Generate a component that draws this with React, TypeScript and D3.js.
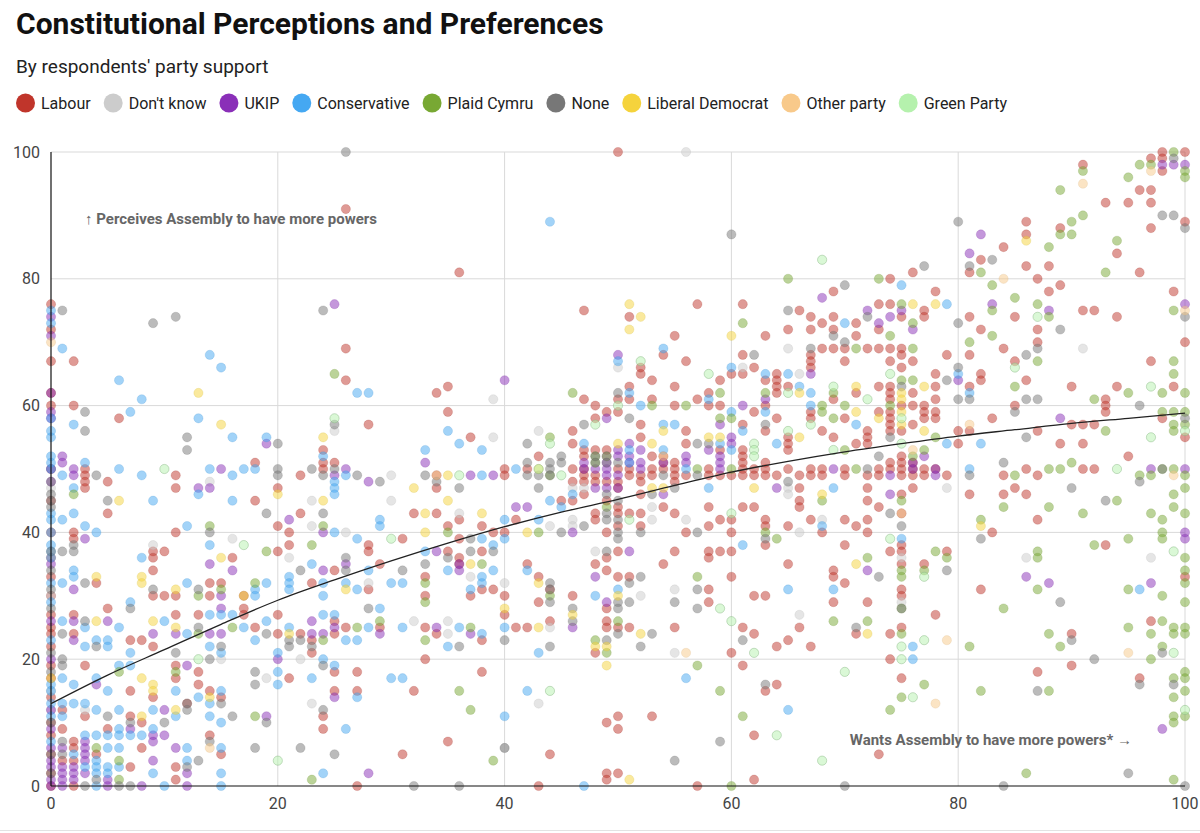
import { useEffect, useRef } from 'react';
import * as d3 from 'd3';

type Pt = [number, number];

// [wants more powers (x), perceives powers (y)]
const labour: Pt[] = [
    [0,0],[0,2],[0,5],[0,8],[0,10],[0,14],[0,17],[0,19],[0,22],[0,24],[0,25],[0,27],[0,30],[0,33],[0,36],[0,40],[0,45],[0,50],[0,60],[0,62],[0,67],[0,72],[0,76],
    [26,91],[2,67],[6,58],[26,69],[26,64],[34,62],[28,57],[24,53],[24,51],[24,50],[25,51],[34,49],[34,47],[22,49],[20,47],[18,51],[11,49],[11,47],[5,48],[5,43],[3,50],[3,49],[3,48],[3,47],[2,60],[18,45],[22,43],[32,43],[34,43],[20,41],[21,40],[2,40],[2,39],[11,40],[20,37],[21,38],[28,38],[28,37],[31,39],[9,37],[10,37],[9,36],[16,36],[29,35],
    [4,32],[9,34],[9,30],[10,30],[11,30],[14,32],[14,30],[15,32],[17,30],[2,27],[5,28],[11,27],[13,27],[17,28],[17,27],[18,25],[20,27],[20,24],[2,24],[7,23],[8,23],[9,22],[3,19],[11,19],[11,17],[13,18],[21,17],[7,15],[9,14],[13,16],[14,15],[15,14],[12,13],[1,12],[3,11],[7,11],[8,10],[1,9],[5,9],[14,8],[2,7],[2,6],[4,5],[15,5],[1,4],[2,4],[7,3],[8,6],[11,3],[11,1],[2,0],
    [25,34],[23,32],[28,31],[33,33],[33,30],[36,35],[37,30],[38,31],[39,31],[40,30],[40,27],[42,35],[43,33],[44,31],[43,29],[46,30],[44,26],[42,25],[41,25],[48,35],[49,34],[50,33],[51,33],[49,26],[49,25],[50,25],[51,25],[48,21],[55,25],[54,35],[22,24],[23,23],[23,21],[25,26],[25,24],[26,25],[29,25],[33,25],[34,24],[38,23],[25,18],[27,18],[33,20],[38,18],[25,15],[27,15],[32,15],[24,11],[24,9],[49,10],[50,11],[50,9],[53,11],[31,5],[35,7],[44,5],[49,2],[49,1],[50,2],[27,0],[43,0],
    [35,63],[35,59],[47,61],[48,60],[48,58],[49,59],[50,61],[51,63],[51,61],[52,65],[52,57],[53,64],[53,61],[55,63],[55,60],[46,56],[46,54],[52,55],[37,55],[40,50],[40,49],[42,50],[43,52],[46,50],[46,48],[46,45],[45,45],[47,50],[47,49],[47,48],[47,46],[48,53],[48,49],[48,48],[49,53],[49,48],[49,45],[49,40],[50,50],[50,48],[50,47],[50,44],[50,43],[51,50],[51,49],[51,43],[52,49],[52,48],[52,41],[53,52],[53,50],[54,50],[54,44],[55,51],[55,50],[55,49],[55,43],[36,42],[41,42],[48,43],[48,42],[52,43],[35,41],[38,41],[39,40],[40,40],[36,39],[31,39],[35,37],[36,36],[38,37],[55,37],[50,37],[36,81],
    [50,100],[74,80],[76,81],[69,78],[78,78],[47,75],[51,74],[57,76],[61,76],[55,71],[63,71],[66,75],[65,72],[67,74],[67,72],[68,73],[69,74],[69,72],[71,73],[71,71],[73,76],[73,72],[74,76],[75,74],[77,75],[77,74],[54,68],[56,67],[52,66],[60,65],[61,68],[61,65],[62,66],[67,68],[67,67],[67,66],[68,69],[69,69],[70,69],[70,67],[72,69],[73,69],[74,69],[74,67],[75,69],[75,68],[75,66],[76,67],[78,65],[59,64],[58,62],[57,61],[50,59],[49,59],[56,56],[56,54],[58,60],[59,60],[61,57],[62,59],[63,64],[63,60],[63,56],[64,65],[64,64],[64,63],[64,62],[64,58],[65,63],[65,55],[65,53],[67,59],[67,58],[68,56],[69,61],[69,55],[70,58],[71,62],[71,54],[72,56],[72,55],[72,54],[73,63],[73,59],[74,63],[74,62],[74,61],[74,59],[74,58],[74,57],[74,56],[75,60],[75,56],[76,62],[76,57],[77,60],[77,59],[78,61],[75,52],[76,60],
    [58,50],[61,50],[62,50],[63,50],[65,50],[67,50],[68,50],[70,50],[73,50],[74,50],[75,50],[53,49],[56,49],[58,49],[59,49],[60,49],[61,49],[62,49],[63,49],[64,49],[66,49],[67,49],[68,49],[70,49],[72,49],[73,49],[75,49],[76,49],[77,49],[55,48],[54,51],[61,51],[63,51],[74,51],[75,51],[47,52],[54,52],[61,52],[47,53],[59,53],[61,53],[65,54],[71,54],
    [66,47],[72,47],[76,47],[52,46],[66,45],[72,45],[75,46],[75,43],[50,41],[56,40],[58,44],[58,41],[59,42],[60,42],[60,40],[61,44],[62,44],[63,42],[63,41],[63,38],[65,41],[66,44],[67,42],[68,40],[70,42],[71,41],[72,42],[72,40],[73,44],[75,38],[75,37],[74,37],[75,35],[75,31],[75,30],[75,25],[74,24],[74,20],[75,17],[77,35],[78,27],[49,36],[48,35],[49,34],[50,33],[49,28],[58,37],[58,36],[58,31],[58,29],[59,37],[60,37],[60,33],[61,25],[62,30],[62,24],[63,30],[64,22],[65,35],[65,23],[66,25],[67,22],[69,34],[69,33],[69,29],[70,38],[70,32],[71,24],[72,29],[60,21],[61,19],[63,15],[64,16],[62,8],[73,5],[62,1],[57,0],
    [98,100],[100,100],[97,99],[98,99],[98,97],[91,98],[96,94],[97,94],[93,92],[95,92],[97,92],[89,88],[86,89],[86,87],[100,89],[97,88],[94,84],[82,83],[81,81],[84,85],[86,82],[88,82],[96,81],[87,80],[88,78],[89,79],[91,75],[92,75],[94,74],[85,74],[81,74],[82,72],[84,69],[87,72],[87,70],[85,67],[99,78],[100,70],[97,67],[81,68],[79,68],[82,65],[82,64],[81,63],[78,63],[83,58],[85,60],[86,64],[90,63],[93,61],[93,60],[93,59],[94,63],[99,63],[100,55],[98,58],[95,52],[92,57],[91,57],[90,57],[91,54],[89,54],[87,56],[81,56],[80,56],[80,54],[78,59],[78,58],[77,58],[76,50],[77,50],[78,50],[86,50],[91,50],[92,50],[79,49],[84,49],[87,49],[76,51],[85,47],[81,46],[84,46],[86,46],
    [87,42],[83,40],[93,38],[79,37],[100,33],[82,31],[97,26],[90,24],[90,19],[87,18],[96,17]
];

const dontKnow: Pt[] = [
    [0,12],[0,15],[0,30],[0,47],
    [25,56],[14,48],[30,49],[23,45],[26,40],[23,41],[30,45],[16,39],[21,36],[9,38],
    [3,12],[19,17],[15,20],[28,32],
    [32,26],[35,26],[35,24],[37,33],[40,32],[44,25],[52,30],[55,31],[55,21],[22,20],[23,13],[40,6],[43,13],
    [39,61],[43,56],[39,55],[36,43],[44,41],[46,42],[46,41],[46,47],[47,47],[53,44],[53,42],[48,37],
    [56,100],[50,66],[61,66],[65,69],[66,65],[65,47],[65,46],[56,42],[66,40],[68,42],[75,36],[75,29],[66,27],
    [91,69],[79,47],[97,36],[86,36]
];

const ukip: Pt[] = [
    [0,0],[0,1],[0,3],[0,4],[0,6],[0,9],[0,12],[0,20],[0,26],[0,35],[0,48],[0,50],[0,58],[0,59],[0,62],[0,71],[0,74],
    [25,76],[19,54],[33,51],[25,49],[26,50],[28,48],[15,50],[13,47],[14,47],[2,50],[2,49],[1,52],[1,51],[21,42],[24,40],[3,39],[26,35],
    [2,31],[16,34],[14,35],[2,26],[5,26],[11,24],[14,24],[15,28],[15,30],[15,24],[2,23],[9,24],[12,19],[20,20],[4,16],[10,12],[19,11],[7,9],[9,8],[10,8],[9,7],[1,6],[1,3],[1,2],[1,1],[1,0],[2,3],[2,2],[2,1],[3,7],[3,6],[3,5],[3,4],[3,2],[5,1],[5,0],[8,0],[9,4],[11,6],[12,2],[12,0],
    [24,34],[26,35],[36,34],[48,33],[49,29],[46,25],[23,26],[23,24],[24,24],[25,25],[29,24],[34,25],[37,24],[25,14],[28,2],
    [40,64],[49,58],[51,54],[37,49],[39,49],[48,50],[48,47],[49,50],[49,49],[49,47],[50,53],[50,52],[50,49],[51,52],[51,51],[52,53],[52,51],[52,50],[54,51],[54,46],[41,44],[42,44],[46,40],[34,37],[36,35],[51,37],
    [68,77],[72,75],[73,73],[74,74],[75,75],[76,72],[67,65],[63,61],[61,60],[59,57],[60,55],[50,68],
    [47,50],[59,50],[69,50],[76,50],[78,50],[74,49],[78,49],[47,51],[49,51],[56,51],[59,51],[76,51],[49,52],[56,52],[59,52],[77,52],[58,53],[60,54],[64,47],[50,47],[74,46],[72,34],
    [82,87],[81,84],[88,75],[83,76],[100,76],[80,64],[89,58],[97,50],[100,50],[98,98],[99,98],[100,98],
    [100,40],[100,39],[86,33],[88,32],[97,32],[98,9]
];

const conservative: Pt[] = [
    [0,7],[0,11],[0,13],[0,15],[0,16],[0,23],[0,29],[0,32],[0,36],[0,37],[0,38],[0,40],[0,42],[0,43],[0,50],[0,51],[0,52],[0,55],[0,56],[0,58],[0,73],[0,75],
    [1,69],[14,68],[15,66],[6,64],[8,61],[7,59],[13,58],[16,55],[19,55],[27,62],[28,62],[24,52],[25,48],[25,47],[25,46],[26,49],[33,53],[3,51],[1,49],[2,47],[8,49],[6,50],[18,50],[17,50],[16,49],[14,50],[13,46],[9,45],[16,45],[29,42],[29,41],[1,42],[2,43],[3,41],[4,40],[12,41],[14,38],[25,40],[27,39],[8,36],[2,57],
    [2,34],[2,33],[1,32],[12,32],[18,31],[18,30],[19,32],[21,33],[21,32],[21,31],[1,26],[6,25],[7,29],[10,26],[12,24],[14,27],[15,27],[16,27],[17,25],[18,23],[19,26],[3,25],[3,22],[4,23],[5,23],[5,22],[7,21],[6,19],[7,19],[14,22],[15,21],[20,21],[20,18],[20,16],[1,17],[2,16],[4,17],[5,15],[11,15],[11,11],[13,14],[14,13],[15,15],[14,11],[15,10],[1,13],[1,11],[2,13],[3,13],[4,12],[6,12],[9,12],[3,8],[4,8],[5,8],[6,9],[6,8],[7,8],[8,8],[9,9],[2,5],[4,4],[4,3],[4,2],[4,0],[3,3],[5,6],[5,3],[5,2],[6,3],[9,2],[10,0],[12,6],[12,4],[15,6],[15,2],[15,0],[6,6],
    [23,35],[28,34],[24,32],[24,30],[26,32],[27,31],[30,32],[31,32],[35,34],[38,33],[38,32],[37,31],[39,34],[42,34],[40,25],[48,30],[50,31],[43,21],[25,27],[24,27],[21,25],[28,25],[29,28],[26,23],[27,23],[31,25],[35,22],[36,25],[38,24],[24,20],[25,19],[23,17],[30,17],[31,17],[27,14],[42,15],[26,9],[40,11],[24,2],[47,0],
    [51,62],[52,60],[54,57],[55,57],[47,54],[35,56],[36,54],[38,53],[33,53],[38,49],[41,50],[46,46],[45,44],[44,45],[40,42],[43,42],[38,39],[40,39],[33,37],[39,38],[54,53],
    [44,89],[75,79],[70,73],[54,69],[50,67],[60,66],[59,54],[60,53],[58,61],[60,59],[61,56],[63,65],[63,59],[64,54],[65,65],[66,63],[67,62],[67,60],[71,57],
    [56,50],[51,53],[51,51],[58,47],[69,47],[68,41],[75,39],[76,22],[76,20],[61,38],[65,31],[69,31],[56,17],[65,12],
    [79,76],[80,65],[81,62],[79,54],[82,54],[81,50],[96,31]
];

const plaid: Pt[] = [
    [25,65],[2,46],[14,41],[24,41],[19,37],[23,38],
    [13,30],[15,31],[18,32],[13,24],[16,25],[6,18],[11,18],[18,11],[4,6],[6,4],[6,1],
    [33,32],[33,29],[38,35],[44,30],[24,23],[27,25],[29,26],[33,23],[37,25],[50,26],[48,23],[49,21],[36,15],[37,12],[39,4],[23,1],
    [46,62],[44,55],[53,60],[49,52],[35,40],[43,40],[49,44],[48,51],
    [65,80],[73,80],[61,73],[56,60],[59,62],[59,58],[60,58],[63,62],[68,60],[68,59],[69,62],[69,58],[71,69],[74,71],[75,76],[76,73],[76,69],[74,60],[75,64],[76,64],[77,53],[78,55],[70,60],[70,53],
    [57,50],[60,50],[71,50],[44,49],[48,52],[76,52],[75,45],[68,45],[63,40],[64,39],[75,34],[75,33],[77,34],[78,37],[75,28],[75,24],[75,14],[74,12],[77,16],[44,30],[57,33],[57,19],[59,15],[61,11],[69,26],[72,36],[72,26],[60,0],
    [99,100],[97,98],[96,98],[95,96],[91,97],[100,97],[100,96],[89,94],[91,90],[90,89],[90,87],[89,87],[94,86],[88,85],[82,81],[93,81],[83,79],[85,77],[87,76],[88,74],[83,75],[99,75],[83,71],[81,70],[87,67],[99,67],[99,65],[85,63],[92,61],[95,62],[98,62],[100,62],[98,59],[99,59],[100,59],[99,57],[99,56],[100,57],[93,56],[88,50],[89,50],[98,50],[99,50],[85,49],[96,49],[97,49],[100,49],[90,51],[99,46],[100,47],[94,45],[88,44],[84,44],[99,44],
    [100,43],[97,43],[98,42],[91,43],[82,42],[98,40],[98,39],[95,39],[92,38],[100,36],[87,37],[87,36],[79,36],[77,34],[100,34],[100,32],[95,31],[87,31],[98,30],[100,29],[84,28],[98,26],[95,25],[99,25],[100,25],[88,24],[97,24],[99,24],[100,24],[81,22],[89,22],[98,22],[97,20],[99,17],[100,18],[100,17],
    [82,15],[88,15],[100,15],[99,14],[99,11],[100,11],[99,10],[86,2],[99,1]
];

const none: Pt[] = [
    [0,2],[0,5],[0,10],[0,18],[0,21],[0,28],[0,31],[0,34],[0,37],[0,44],[0,45],[0,46],[0,48],
    [26,100],[1,75],[9,73],[11,74],[24,75],[25,57],[3,59],[3,56],[12,55],[12,53],[20,54],[24,49],[25,50],[27,49],[29,48],[33,49],[34,48],[23,50],[20,50],[20,49],[4,49],[5,45],[19,43],[24,43],[14,40],[2,38],[2,37],[1,37],[26,36],
    [3,32],[9,31],[13,31],[1,24],[3,26],[7,28],[13,25],[19,24],[4,22],[11,21],[1,20],[1,19],[14,20],[15,22],[18,18],[18,16],[12,13],[12,12],[15,13],[5,11],[7,10],[10,10],[16,11],[19,10],[1,7],[1,5],[13,4],[14,7],[18,6],[4,1],[6,0],[7,0],[12,3],[3,0],
    [22,34],[26,34],[31,34],[33,35],[44,32],[44,29],[46,28],[46,26],[50,29],[51,29],[51,32],[50,28],[52,33],[49,23],[50,24],[52,22],[53,24],[55,29],[21,23],[21,22],[22,23],[23,22],[24,19],[28,28],[36,22],[40,23],[44,22],[24,12],[40,6],[22,6],[25,5],[55,4],[32,0],[36,0],
    [50,62],[51,58],[47,57],[42,54],[42,49],[42,51],[43,49],[43,47],[44,50],[44,49],[45,52],[48,52],[48,51],[49,51],[49,46],[50,51],[50,45],[50,42],[50,40],[50,39],[52,40],[53,46],[54,49],[55,47],[29,48],[36,47],[47,41],[45,40],[37,39],[35,36],[39,37],[33,35],[37,37],[49,37],[49,43],[49,42],
    [60,87],[77,82],[70,79],[65,75],[72,74],[69,71],[70,70],[62,68],[67,69],[57,54],[58,54],[63,57],[73,52],[74,55],[75,63],
    [72,50],[57,49],[44,51],[45,51],[65,48],[57,40],[63,39],[74,43],[75,41],[75,28],[52,33],[51,32],[44,31],[57,31],[57,28],[61,23],[71,25],[73,33],[63,16],[59,7],[70,0],
    [98,90],[99,90],[99,99],[100,88],[80,89],[81,82],[83,83],[77,82],[80,73],[87,69],[86,68],[89,72],[100,74],[79,64],[80,66],[81,61],[80,61],[85,59],[86,61],[87,61],[96,60],[100,58],[86,55],[81,49],[84,51],[96,48],[90,47],[93,45],[98,50],
    [82,39],[79,34],[89,29],[90,23],[98,21],[92,20],[96,16],[99,16],[87,15],[95,2],[84,0],[100,0]
];

const libDem: Pt[] = [
    [0,17],
    [13,62],[15,57],[6,45],[24,55],[20,46],[32,47],[24,45],[33,43],[33,40],[15,36],
    [4,33],[8,33],[8,32],[11,31],[17,30],[4,26],[9,26],[11,25],[8,17],[9,16],[9,15],[11,12],[14,14],[8,11],
    [26,31],[21,24],[37,35],[40,28],[43,32],[43,25],[46,27],[50,30],[48,22],[49,22],[49,19],[52,24],[51,1],
    [54,56],[50,54],[53,54],[35,49],[43,50],[35,45],[38,43],[42,40],[53,47],
    [51,76],[52,74],[51,72],[60,71],[76,76],[78,76],[58,55],[59,55],[66,62],[66,55],[71,63],[71,59],[73,58],[75,62],[75,61],[75,59],[75,57],[77,63],[77,56],
    [62,47],[54,47],[68,46],[71,35],[72,24],
    [86,86],[82,41]
];

const otherParty: Pt[] = [
    [0,70],[14,6],[34,49],[54,52],[56,21],[76,53],[75,43],[78,13],
    [97,97],[91,95],[84,80],[100,75],[99,49],[81,57],[79,23],[95,21]
];

const greenParty: Pt[] = [
    [10,50],[25,58],[17,38],[30,39],[13,20],[20,4],[44,15],
    [50,60],[48,57],[44,54],[45,49],[36,49],[51,42],
    [68,83],[52,67],[58,65],[62,54],[62,53],[62,52],[65,62],[65,56],[67,57],[69,63],[69,53],[72,61],[74,65],[75,58],[75,54],
    [43,50],[60,43],[74,39],[59,28],[60,26],[62,21],[75,22],[75,20],[76,14],[77,33],[77,23],[70,18],[64,8],[68,4],
    [87,74],[85,66],[97,63],[97,55],[100,56],[94,50],[99,37],[99,21],[100,12]
];

const partyNames = ['Labour', "Don't know", 'UKIP', 'Conservative', 'Plaid Cymru', 'None', 'Liberal Democrat', 'Other party', 'Green Party'];
const partyColors = ['#c0352b', '#cccccc', '#8a2fb8', '#45a8f2', '#78a833', '#777777', '#f5d33c', '#f8c98a', '#b5f1ad'];
const partyPoints = [labour, dontKnow, ukip, conservative, plaid, none, libDem, otherParty, greenParty];

// fitted trend line
const trendX = [0, 5, 10, 15, 20, 25, 30, 35, 40, 45, 50, 55, 60, 65, 70, 75, 80, 85, 90, 95, 100];
const trendY = [13, 17.5, 21.5, 25.5, 29.3, 32.5, 35.5, 38.3, 40.9, 43.2, 45.2, 47.4, 49.5, 51.2, 52.7, 54, 55.2, 56.2, 57.2, 58, 58.8];

const ticks = [0, 20, 40, 60, 80, 100];

const width = 1200;
const height = 833;
const margin = { top: 152, right: 15, bottom: 47, left: 51 };
const font = 'Roboto, "Noto Sans", sans-serif';

function uniq(points: Pt[]): Pt[] {
    const seen = new Set<string>();
    return points.filter(p => {
        const k = p.join(',');
        if (seen.has(k)) return false;
        seen.add(k);
        return true;
    });
}

export default function App() {
    const ref = useRef<SVGSVGElement>(null);

    useEffect(() => {
        const svg = d3.select(ref.current);
        svg.selectAll('*').remove();

        const x = d3.scaleLinear().domain([0, 100]).range([margin.left, width - margin.right]);
        const y = d3.scaleLinear().domain([0, 100]).range([height - margin.bottom, margin.top]);

        svg.append('rect').attr('width', width).attr('height', height).attr('fill', '#fff');

        // title, subtitle
        svg.append('text')
            .attr('x', 16).attr('y', 34)
            .attr('font-size', 30).attr('font-weight', 700).attr('fill', '#111')
            .text('Constitutional Perceptions and Preferences');
        svg.append('text')
            .attr('x', 16).attr('y', 73)
            .attr('font-size', 19).attr('fill', '#222')
            .text("By respondents' party support");

        // legend, laid out from text widths
        const legend = svg.append('g');
        let lx = 16;
        partyNames.forEach((name, i) => {
            legend.append('circle')
                .attr('cx', lx + 9.5).attr('cy', 103).attr('r', 9.5)
                .attr('fill', partyColors[i]);
            const t = legend.append('text')
                .attr('x', lx + 25).attr('y', 108.5)
                .attr('font-size', 16).attr('fill', '#222')
                .text(name);
            const w = (t.node() as SVGTextElement).getComputedTextLength();
            lx = lx + 25 + w + 13;
        });

        // grid
        const grid = svg.append('g').attr('stroke', '#d9d9d9').attr('stroke-width', 1);
        ticks.filter(t => t > 0).forEach(t => {
            grid.append('line')
                .attr('x1', x(0)).attr('x2', x(100))
                .attr('y1', y(t)).attr('y2', y(t));
            grid.append('line')
                .attr('x1', x(t)).attr('x2', x(t))
                .attr('y1', y(0)).attr('y2', y(100));
        });

        // axis labels
        svg.append('g')
            .selectAll('text')
            .data(ticks)
            .join('text')
            .attr('x', x(0) - 11).attr('y', d => y(d) + 5.5)
            .attr('text-anchor', 'end')
            .attr('font-size', 16).attr('fill', '#444')
            .text(d => d);
        svg.append('g')
            .selectAll('text')
            .data(ticks)
            .join('text')
            .attr('x', d => x(d)).attr('y', y(0) + 23)
            .attr('text-anchor', 'middle')
            .attr('font-size', 16).attr('fill', '#444')
            .text(d => d);

        // points
        const dots = svg.append('g');
        partyPoints.forEach((pts, i) => {
            const c = partyColors[i];
            const stroke = d3.color(c)!.darker(i === 8 ? 0.8 : 0.4).formatHex();
            dots.append('g')
                .selectAll('circle')
                .data(uniq(pts))
                .join('circle')
                .attr('cx', d => x(d[0]))
                .attr('cy', d => y(d[1]))
                .attr('r', 4.6)
                .attr('fill', c)
                .attr('fill-opacity', 0.5)
                .attr('stroke', stroke)
                .attr('stroke-opacity', i === 8 ? 0.45 : 0.2)
                .attr('stroke-width', 1);
        });

        // axis lines
        svg.append('line')
            .attr('x1', x(0)).attr('x2', x(0)).attr('y1', y(0)).attr('y2', y(100))
            .attr('stroke', '#111').attr('stroke-width', 1.2);
        svg.append('line')
            .attr('x1', x(0)).attr('x2', x(100)).attr('y1', y(0)).attr('y2', y(0))
            .attr('stroke', '#111').attr('stroke-width', 1.2);

        // trend line
        const line = d3.line<number>()
            .x((_, i) => x(trendX[i]))
            .y(d => y(d))
            .curve(d3.curveMonotoneX);
        svg.append('path')
            .attr('fill', 'none')
            .attr('stroke', '#222')
            .attr('stroke-width', 1.3)
            .attr('d', line(trendY));

        // annotations
        svg.append('text')
            .attr('x', 85).attr('y', 224)
            .attr('font-size', 15).attr('font-weight', 700).attr('fill', '#666')
            .text('↑ Perceives Assembly to have more powers');
        svg.append('text')
            .attr('x', 1132).attr('y', 745)
            .attr('text-anchor', 'end')
            .attr('font-size', 15).attr('font-weight', 700).attr('fill', '#666')
            .text('Wants Assembly to have more powers* →');

        // bottom rule
        svg.append('line')
            .attr('x1', 0).attr('x2', width).attr('y1', 830.5).attr('y2', 830.5)
            .attr('stroke', '#e3e3e3');
    }, []);

    return (
        <svg
            ref={ref}
            width={width}
            height={height}
            viewBox={`0 0 ${width} ${height}`}
            style={{ position: 'absolute', left: 0, top: 0, fontFamily: font }}
        />
    );
}
